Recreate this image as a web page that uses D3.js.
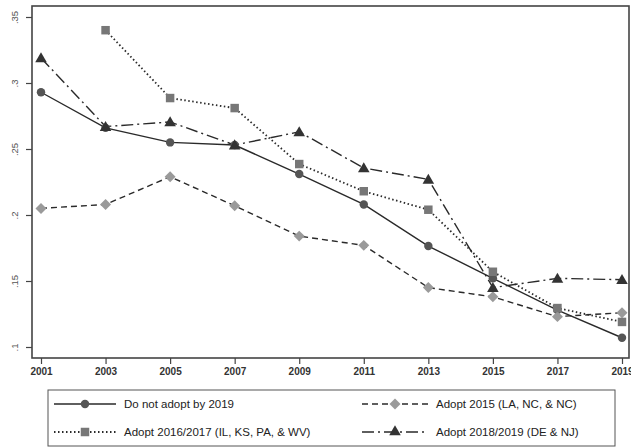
<!DOCTYPE html>
<html lang="en">
<head>
<meta charset="UTF-8">
<title>Adoption trends</title>
<script src="https://d3js.org/d3.v7.min.js"></script>
<style>
  body { margin: 0; background: #fff; font-family: "Liberation Sans", Arial, sans-serif; }
  svg { display: block; }
</style>
</head>
<body>
<div id="chart"></div>
<script>
// data
const years = [2001, 2003, 2005, 2007, 2009, 2011, 2013, 2015, 2017, 2019];
const yTicks = [0.1, 0.15, 0.2, 0.25, 0.3, 0.35];
const yTickLabels = [".1", ".15", ".2", ".25", ".3", ".35"];

const notAdopt = [0.293, 0.266, 0.255, 0.253, 0.231, 0.208, 0.1765, 0.152, 0.128, 0.107];
const adopt2015 = [0.205, 0.208, 0.229, 0.207, 0.184, 0.177, 0.145, 0.138, 0.123, 0.126];
const adopt1617 = [null, 0.340, 0.2886, 0.281, 0.2386, 0.218, 0.204, 0.157, 0.1295, 0.119];
const adopt1819 = [0.319, 0.267, 0.2705, 0.253, 0.263, 0.2356, 0.227, 0.145, 0.152, 0.151];

const series = [
  { name: "Do not adopt by 2019", values: notAdopt, marker: "circle", fill: "#555", dash: null },
  { name: "Adopt 2015 (LA, NC, & NC)", values: adopt2015, marker: "diamond", fill: "#9a9a9a", dash: "6,4" },
  { name: "Adopt 2016/2017 (IL, KS, PA, & WV)", values: adopt1617, marker: "square", fill: "#777", dash: "1.5,2.5" },
  { name: "Adopt 2018/2019 (DE & NJ)", values: adopt1819, marker: "triangle", fill: "#333", dash: "12,4,2,4" }
];

const W = 631, H = 448;
const frame = { left: 32, top: 6, right: 629, bottom: 358 };

const x = d3.scaleLinear().domain([2001, 2019]).range([41, 622]);
const y = d3.scaleLinear().domain([0.1, 0.35]).range([347, 17]);

const svg = d3.select("#chart").append("svg").attr("width", W).attr("height", H);

// frame
svg.append("rect")
  .attr("x", frame.left).attr("y", frame.top)
  .attr("width", frame.right - frame.left).attr("height", frame.bottom - frame.top)
  .attr("fill", "none").attr("stroke", "#444").attr("stroke-width", 1.6);

// y axis
const yAxis = svg.append("g").attr("transform", `translate(${frame.left},0)`)
  .call(d3.axisLeft(y).tickValues(yTicks).tickSize(6).tickFormat((d, i) => yTickLabels[i]));
yAxis.select(".domain").remove();
yAxis.selectAll(".tick line").attr("stroke", "#444").attr("stroke-width", 1.2);
yAxis.selectAll(".tick text")
  .attr("transform", "rotate(-90)")
  .attr("x", 0).attr("y", -14).attr("dy", "0")
  .attr("text-anchor", "middle")
  .attr("fill", "#555").attr("font-size", 9.5)
  .attr("font-family", "'Liberation Sans', Arial, sans-serif");

// x axis
const xAxis = svg.append("g").attr("transform", `translate(0,${frame.bottom})`)
  .call(d3.axisBottom(x).tickValues(years).tickSize(6).tickFormat(d3.format("d")));
xAxis.select(".domain").remove();
xAxis.selectAll(".tick line").attr("stroke", "#444").attr("stroke-width", 1.2);
xAxis.selectAll(".tick text")
  .attr("y", 10).attr("dy", "0.71em")
  .attr("fill", "#333").attr("font-size", 10).attr("font-weight", "bold")
  .attr("font-family", "'Liberation Sans Narrow', 'Liberation Sans', Arial, sans-serif");

const symbols = {
  circle: { gen: d3.symbol().type(d3.symbolCircle).size(56), rot: 0 },
  diamond: { gen: d3.symbol().type(d3.symbolSquare).size(60), rot: 45 },
  square: { gen: d3.symbol().type(d3.symbolSquare).size(72), rot: 0 },
  triangle: { gen: d3.symbol().type(d3.symbolTriangle).size(58), rot: 0 }
};

const line = d3.line()
  .defined(d => d.v != null)
  .x(d => x(d.year)).y(d => y(d.v));

const plot = svg.append("g");
series.forEach(s => {
  const pts = years.map((yr, i) => ({ year: yr, v: s.values[i] }));
  plot.append("path")
    .datum(pts)
    .attr("d", line)
    .attr("fill", "none")
    .attr("stroke", "#2a2a2a")
    .attr("stroke-width", s.dash === "1.5,2.5" ? 1.8 : 1.4)
    .attr("stroke-dasharray", s.dash);
});
series.forEach(s => {
  const sym = symbols[s.marker];
  const pts = years.map((yr, i) => ({ year: yr, v: s.values[i] })).filter(d => d.v != null);
  plot.selectAll(null).data(pts).enter().append("path")
    .attr("d", sym.gen)
    .attr("transform", d => `translate(${x(d.year)},${y(d.v) + (s.marker === "triangle" ? 1 : 0)}) rotate(${sym.rot})`)
    .attr("fill", s.fill);
});

// legend
const legend = svg.append("g");
legend.append("rect")
  .attr("x", 48).attr("y", 390).attr("width", 567).attr("height", 56)
  .attr("fill", "#fff").attr("stroke", "#555").attr("stroke-width", 1);

const legPos = [
  { x0: 54, x1: 116, y: 404 },
  { x0: 362, x1: 428, y: 404 },
  { x0: 54, x1: 116, y: 432 },
  { x0: 362, x1: 428, y: 432 }
];
series.forEach((s, i) => {
  const p = legPos[i];
  const sym = symbols[s.marker];
  legend.append("line")
    .attr("x1", p.x0).attr("x2", p.x1).attr("y1", p.y).attr("y2", p.y)
    .attr("stroke", "#2a2a2a")
    .attr("stroke-width", s.dash === "1.5,2.5" ? 1.8 : 1.4)
    .attr("stroke-dasharray", s.dash);
  legend.append("path")
    .attr("d", sym.gen)
    .attr("transform", `translate(${(p.x0 + p.x1) / 2},${p.y}) rotate(${sym.rot})`)
    .attr("fill", s.fill);
  legend.append("text")
    .attr("x", p.x1 + 8).attr("y", p.y).attr("dy", "0.35em")
    .attr("font-size", 11.5).attr("fill", "#222")
    .text(s.name);
});
</script>
</body>
</html>
